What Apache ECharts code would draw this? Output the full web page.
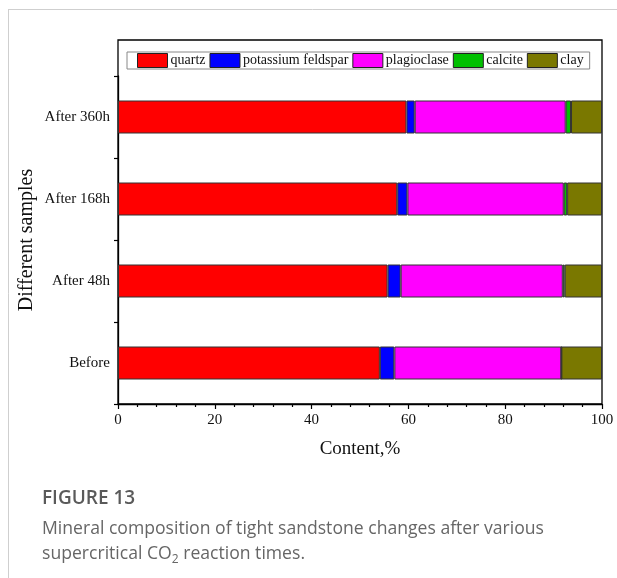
<!DOCTYPE html>
<html><head><meta charset="utf-8">
<script src="https://cdn.jsdelivr.net/npm/echarts@6/dist/echarts.min.js"></script>
<style>html,body{margin:0;padding:0;background:#fff}#c{width:617px;height:578px}</style>
</head><body><div id="c"></div>
<script>
const categories = ['Before', 'After 48h', 'After 168h', 'After 360h'];
const quartz = [54.1, 55.7, 57.7, 59.6];
const potassiumFeldspar = [3.0, 2.7, 2.1, 1.7];
const plagioclase = [34.5, 33.5, 32.3, 31.2];
const calcite = [0, 0.4, 0.7, 1.1];
const clay = [8.4, 7.7, 7.2, 6.4];
const xTicks = [0, 20, 40, 60, 80, 100];

const seriesDefs = [
  ['quartz', quartz, '#ff0000'],
  ['potassium feldspar', potassiumFeldspar, '#0000ff'],
  ['plagioclase', plagioclase, '#ff00ff'],
  ['calcite', calcite, '#00c000'],
  ['clay', clay, '#7a7800']
];
const serif = 'Liberation Serif';
const chart = echarts.init(document.getElementById('c'), null, {renderer: 'canvas'});
chart.setOption({
  animation: false,
  backgroundColor: '#fff',
  title: [
    {text: 'FIGURE 13', left: 37, top: 484, textStyle: {fontFamily: 'Open Sans', fontSize: 19, fontWeight: 600, color: '#5a5a5a'}},
    {text: 'Mineral composition of tight sandstone changes after various\nsupercritical CO{sub|2} reaction times.', left: 37, top: 511,
     textStyle: {fontFamily: 'Open Sans', fontSize: 17.6, fontWeight: 'normal', lineHeight: 25, color: '#666',
       rich: {sub: {fontSize: 12, fontWeight: 'normal', verticalAlign: 'bottom', padding: [9, 0, 0, 0], color: '#666', fontFamily: 'Open Sans', lineHeight: 25}}}}
  ],
  graphic: [
    {type: 'line', shape: {x1: 8, y1: 9.5, x2: 617, y2: 9.5}, style: {stroke: '#cfcfcf', lineWidth: 1}},
    {type: 'line', shape: {x1: 8.5, y1: 9.5, x2: 8.5, y2: 578}, style: {stroke: '#cfcfcf', lineWidth: 1}}
  ],
  legend: {
    left: 127, top: 52, itemWidth: 30, itemHeight: 14, itemGap: 4,
    padding: [1, 6, 1, 10], borderColor: '#888', borderWidth: 1,
    icon: 'rect',
    textStyle: {fontFamily: serif, fontSize: 14, color: '#111', padding: [0, 0, 0, -2]},
    itemStyle: {borderColor: '#222', borderWidth: 1},
    data: seriesDefs.map(d => d[0])
  },
  grid: [
    {left: 118, right: 15, top: 76, bottom: 174},
    {left: 118, right: 15, top: 40, bottom: 174, show: true, borderColor: '#000', borderWidth: 1.3, backgroundColor: 'transparent', z: 0}
  ],
  xAxis: [
    {type: 'value', min: 0, max: 100, interval: 20, gridIndex: 0,
     name: 'Content,%', nameLocation: 'middle', nameGap: 36,
     nameTextStyle: {fontFamily: serif, fontSize: 19, color: '#111'},
     axisLine: {show: true, lineStyle: {color: '#000', width: 1.3}},
     axisTick: {show: true, length: 5, lineStyle: {color: '#000', width: 1.2}},
     minorTick: {show: true, splitNumber: 5, length: 3, lineStyle: {color: '#000', width: 1.2}},
     splitLine: {show: false},
     axisLabel: {fontFamily: serif, fontSize: 15, color: '#111', margin: 9,
       formatter: v => xTicks.includes(v) ? String(v) : ''}},
    {type: 'value', min: 0, max: 100, gridIndex: 1, show: false}
  ],
  yAxis: [
    {type: 'category', data: categories, gridIndex: 0,
     name: 'Different samples', nameLocation: 'middle', nameGap: 81, nameMoveOverlap: false,
     nameTextStyle: {fontFamily: serif, fontSize: 20, color: '#111'},
     axisLine: {show: true, lineStyle: {color: '#000', width: 1.3}},
     axisTick: {show: true, length: 4, lineStyle: {color: '#000', width: 1.2}},
     axisLabel: {fontFamily: serif, fontSize: 15, color: '#111', margin: 8}},
    {type: 'value', min: 0, max: 1, gridIndex: 1, show: false}
  ],
  series: seriesDefs.map(d => ({
    name: d[0], type: 'bar', stack: 'total', data: d[1], barWidth: 33,
    xAxisIndex: 0, yAxisIndex: 0,
    itemStyle: {color: d[2], borderColor: '#333', borderWidth: 1}
  }))
});
</script></body></html>
